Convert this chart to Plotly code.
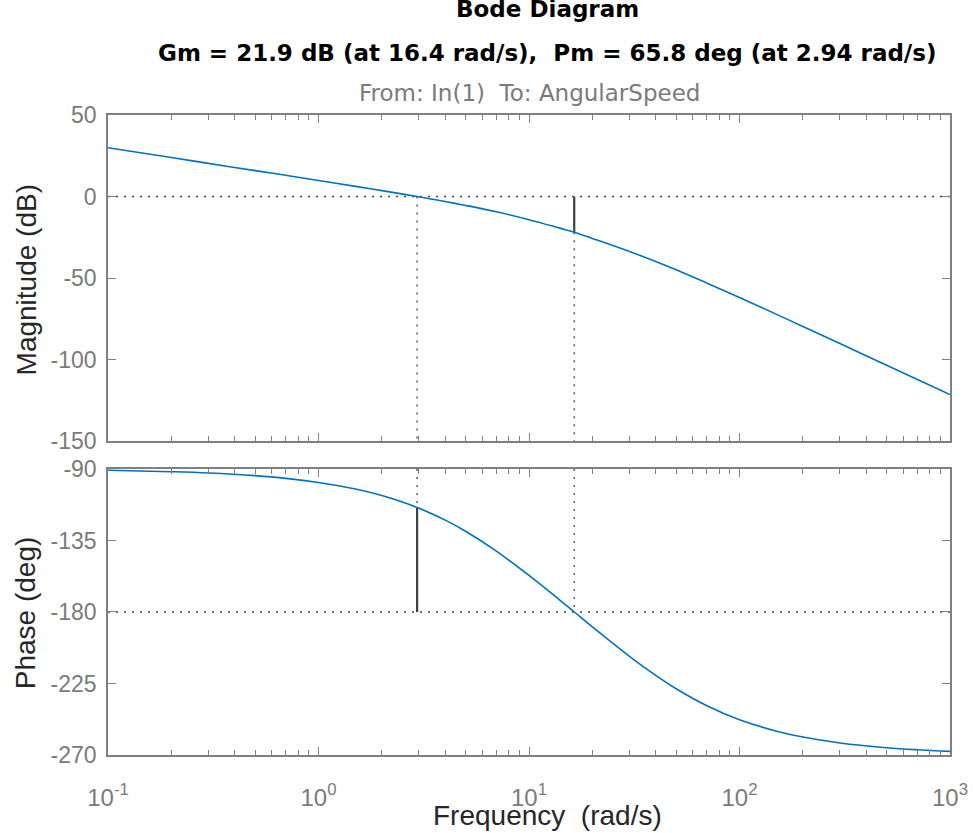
import plotly.graph_objects as go

# ---- data ----
freq = [0.1, 0.2, 0.3, 0.5, 0.7, 1, 1.5, 2, 2.94, 4, 5, 7, 10, 14, 16.4, 20, 30,
        40, 50, 70, 100, 150, 200, 300, 500, 700, 1000]
mag_db = [29.9, 23.9, 20.3, 15.9, 13.0, 9.8, 6.2, 3.6, 0.0, -3.1, -5.5, -9.4, -14.2,
          -19.4, -21.9, -25.7, -33.7, -39.9, -45.0, -53.1, -62.0, -72.3, -79.7,
          -90.2, -103.5, -112.2, -121.5]
phase_deg = [-90.8, -91.7, -92.5, -94.2, -95.9, -98.5, -102.6, -106.7, -114.2,
             -122.2, -129.2, -141.7, -157.0, -172.5, -180.0, -189.4, -207.9,
             -219.9, -228.3, -239.0, -247.8, -255.0, -258.7, -262.4, -265.4,
             -266.7, -267.7]

gm_db, gm_freq = 21.9, 16.4
pm_deg, pm_freq = 65.8, 2.94

x_range = [0.1, 1000]
x_tickvals = [0.1, 1, 10, 100, 1000]
x_ticktext = ["10<sup>-1</sup>", "10<sup>0</sup>", "10<sup>1</sup>",
              "10<sup>2</sup>", "10<sup>3</sup>"]
x_minor = [m * d for d in [0.1, 1, 10, 100] for m in range(2, 10)]
mag_range = [-150, 50]
mag_ticks = [-150, -100, -50, 0, 50]
mag_ticktext = ["-150", "-100", "-50", "0", "50"]
phase_range = [-270, -90]
phase_ticks = [-270, -225, -180, -135, -90]
phase_ticktext = ["-270", "-225", "-180", "-135", "-90"]

title_line1 = "Bode Diagram"
title_line2 = (f"Gm = {gm_db} dB (at {gm_freq} rad/s),  "
               f"Pm = {pm_deg} deg (at {pm_freq} rad/s)")
subtitle = "From: In(1)  To: AngularSpeed"

# ---- styles ----
BLUE = "#0072BD"
AX = "#808080"
TICKFONT = "#7a7a7a"
REF = "#404040"
DOT = "2px,6px"
SANS = "Liberation Sans, Arial, sans-serif"

fig = go.Figure()

def ref_line(xs, ys, xa, ya, dash):
    fig.add_trace(go.Scatter(x=xs, y=ys, xaxis=xa, yaxis=ya, mode="lines",
                             line=dict(color=REF, width=1.3 if dash != "solid" else 2.2,
                                       dash=dash),
                             hoverinfo="skip", showlegend=False))

# magnitude reference lines
ref_line(x_range, [0, 0], "x", "y", DOT)
ref_line([pm_freq, pm_freq], [0, mag_range[0]], "x", "y", DOT)
ref_line([gm_freq, gm_freq], [-gm_db, mag_range[0]], "x", "y", DOT)
ref_line([gm_freq, gm_freq], [0, -gm_db], "x", "y", "solid")
# phase reference lines
ref_line(x_range, [-180, -180], "x2", "y2", DOT)
ref_line([pm_freq, pm_freq], [phase_range[1], -180 + pm_deg], "x2", "y2", DOT)
ref_line([pm_freq, pm_freq], [-180 + pm_deg, -180], "x2", "y2", "solid")
ref_line([gm_freq, gm_freq], [phase_range[1], -180], "x2", "y2", DOT)

fig.add_trace(go.Scatter(x=freq, y=mag_db, xaxis="x", yaxis="y", mode="lines",
                         line=dict(color=BLUE, width=1.6, shape="spline"),
                         showlegend=False))
fig.add_trace(go.Scatter(x=freq, y=phase_deg, xaxis="x2", yaxis="y2", mode="lines",
                         line=dict(color=BLUE, width=1.6, shape="spline"),
                         showlegend=False))

common_x = dict(type="log", range=[-1, 3], showgrid=False, zeroline=False,
                showline=True, linecolor=AX, linewidth=1.5, mirror="allticks",
                ticks="inside", ticklen=8, tickcolor=AX, tickwidth=1,
                tickvals=x_tickvals, ticktext=x_ticktext, automargin=False,
                minor=dict(tickmode="array", tickvals=x_minor, ticks="inside",
                           ticklen=5, tickcolor=AX, tickwidth=1, showgrid=False))
common_y = dict(showgrid=False, zeroline=False, showline=True, linecolor=AX,
                linewidth=1.5, mirror="allticks", ticks="inside", ticklen=8,
                tickcolor=AX, tickwidth=1, automargin=False,
                tickfont=dict(family=SANS, size=23, color=TICKFONT),
                ticklabelstandoff=5)

fig.update_layout(
    width=973, height=833,
    margin=dict(l=108, r=23, t=115, b=78, autoexpand=False),
    paper_bgcolor="white", plot_bgcolor="white",
    showlegend=False,
    xaxis=dict(**common_x, anchor="y", showticklabels=False, matches="x2"),
    xaxis2=dict(**common_x, anchor="y2", showticklabels=True,
                tickfont=dict(family=SANS, size=24, color=TICKFONT),
                ticklabelstandoff=20),
    yaxis=dict(**common_y, domain=[0.4906, 1.0], anchor="x",
               range=mag_range, tickvals=mag_ticks, ticktext=mag_ticktext),
    yaxis2=dict(**common_y, domain=[0.0, 0.4469], anchor="x2",
                range=phase_range, tickvals=phase_ticks, ticktext=phase_ticktext),
    annotations=[
        dict(text=f"<b>{title_line1}</b>", xref="paper", yref="paper",
             x=0.5214, y=1.166, xanchor="center", yanchor="middle",
             showarrow=False, font=dict(family="DejaVu Sans", size=23, color="black")),
        dict(text=f"<b>{title_line2}</b>", xref="paper", yref="paper",
             x=0.5214, y=1.0969, xanchor="center", yanchor="middle",
             showarrow=False, font=dict(family="DejaVu Sans", size=23, color="black")),
        dict(text=subtitle, xref="paper", yref="paper",
             x=0.5, y=1.0344, xanchor="center", yanchor="middle",
             showarrow=False, font=dict(family="DejaVu Sans", size=23, color="#7a7a7a")),
        dict(text="Magnitude (dB)", xref="paper", yref="paper",
             x=-0.097, y=0.742, xanchor="center", yanchor="middle", textangle=-90,
             showarrow=False, font=dict(family=SANS, size=28, color="#262626")),
        dict(text="Phase (deg)", xref="paper", yref="paper",
             x=-0.097, y=0.222, xanchor="center", yanchor="middle", textangle=-90,
             showarrow=False, font=dict(family=SANS, size=28, color="#262626")),
        dict(text="Frequency  (rad/s)", xref="paper", yref="paper",
             x=0.5214, y=-0.094, xanchor="center", yanchor="middle",
             showarrow=False, font=dict(family=SANS, size=28, color="#262626")),
    ],
)

fig.write_html("out.html",
               config={"displayModeBar": False},
               post_script="document.body.style.margin='0';"
                           "document.body.style.padding='0';")
